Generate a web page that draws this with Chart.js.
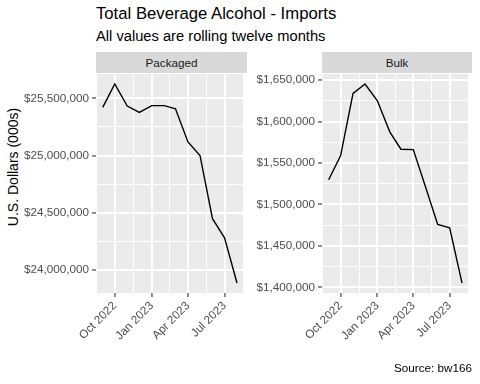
<!DOCTYPE html>
<html>
<head>
<meta charset="utf-8">
<script src="https://cdn.jsdelivr.net/npm/chart.js@4.4.1/dist/chart.umd.min.js"></script>
<style>
  body { margin: 0; background: #fff; }
  #wrap { position: relative; width: 480px; height: 384px; overflow: hidden; font-family: 'Liberation Sans', Arial, sans-serif; }
  .txt { position: absolute; white-space: nowrap; line-height: 1; }
  .strip { position: absolute; top: 52px; height: 21px; background: #D9D9D9; color: #1A1A1A; font-size: 11.7px; text-align: center; line-height: 21px; }
  canvas { position: absolute; }
</style>
</head>
<body>
<div id="wrap">
  <div class="txt" style="left:96px;top:6px;font-size:16.7px;color:#000">Total Beverage Alcohol - Imports</div>
  <div class="txt" style="left:96px;top:29px;font-size:14.7px;color:#000">All values are rolling twelve months</div>
  <div class="txt" style="left:13px;top:167px;font-size:14px;color:#000;transform:translate(-50%,-50%) rotate(-90deg)">U.S. Dollars (000s)</div>
  <div class="strip" style="left:96px;width:151px">Packaged</div>
  <div class="strip" style="left:322px;width:150px">Bulk</div>
  <canvas id="packagedChart" width="255" height="300" style="left:0;top:64px"></canvas>
  <canvas id="bulkChart" width="238" height="300" style="left:242px;top:64px"></canvas>
  <div class="txt" style="right:8px;top:362px;font-size:11.7px;color:#000">Source: bw166</div>
</div>
<script>
// data (rolling twelve months, U.S. dollars in 000s)
const months = ["2022-09-01", "2022-10-01", "2022-11-01", "2022-12-01", "2023-01-01", "2023-02-01",
                "2023-03-01", "2023-04-01", "2023-05-01", "2023-06-01", "2023-07-01", "2023-08-01"];
const packaged = [25421000, 25626000, 25433000, 25377000, 25436000, 25436000,
                  25409000, 25119000, 25000000, 24446000, 24279000, 23883000];
const bulk = [1529800, 1558900, 1633900, 1645200, 1625000, 1587500,
              1566500, 1566100, 1522000, 1475800, 1471800, 1405200];

// axis breaks
const dateTicks = ["2022-10-01", "2023-01-01", "2023-04-01", "2023-07-01"];
const dateTickLabels = ["Oct 2022", "Jan 2023", "Apr 2023", "Jul 2023"];
const packagedTicks = [24000000, 24500000, 25000000, 25500000];
const bulkTicks = [1400000, 1450000, 1500000, 1550000, 1600000, 1650000];

Chart.defaults.font.family = "'Liberation Sans', Arial, sans-serif";

function toDay(s) {
  return Date.UTC(+s.slice(0, 4), +s.slice(5, 7) - 1, +s.slice(8, 10)) / 86400000;
}

// ggplot style 5% expansion
function expand(values) {
  const lo = Math.min(...values), hi = Math.max(...values);
  const pad = (hi - lo) * 0.05;
  return { min: lo - pad, max: hi + pad };
}

// major breaks plus minor breaks half way between them
function withMinors(majors, min, max) {
  const step = majors[1] - majors[0];
  const all = [majors[0] - step / 2];
  majors.forEach((v, i) => {
    all.push(v);
    const next = i < majors.length - 1 ? majors[i + 1] : v + step;
    all.push((v + next) / 2);
  });
  return all.filter(v => v >= min && v <= max).map(v => ({ value: v, isMajor: majors.includes(v) }));
}

const panelBg = {
  id: "panelBg",
  beforeDraw(chart) {
    const { ctx, chartArea: a } = chart;
    ctx.save();
    ctx.fillStyle = "#EBEBEB";
    ctx.fillRect(a.left, a.top, a.right - a.left, a.bottom - a.top);
    ctx.restore();
  }
};

const gridOpts = {
  color: "#FFFFFF",
  lineWidth: c => (c.tick && c.tick.isMajor ? 1.9 : 0.95),
  tickColor: c => (c.tick && c.tick.isMajor ? "#333333" : "rgba(0,0,0,0)"),
  tickLength: 4,
  tickWidth: 1.1
};

function makePanel(canvasId, values, yTicks, axisWidth) {
  const days = months.map(toDay);
  const xDays = dateTicks.map(toDay);
  const xr = expand(days);
  const yr = expand(values);
  const canvas = document.getElementById(canvasId);

  return new Chart(canvas.getContext("2d"), {
    type: "line",
    data: {
      datasets: [{
        data: days.map((d, i) => ({ x: d, y: values[i] })),
        borderColor: "#000000",
        borderWidth: 1.4,
        pointRadius: 0,
        tension: 0,
        fill: false
      }]
    },
    options: {
      responsive: false,
      animation: false,
      devicePixelRatio: 1,
      layout: { padding: { left: 0, top: 10, right: 8, bottom: 0 } },
      plugins: { legend: { display: false }, tooltip: { enabled: false } },
      scales: {
        x: {
          type: "linear",
          min: xr.min,
          max: xr.max,
          afterBuildTicks: s => { s.ticks = withMinors(xDays, xr.min, xr.max); },
          afterFit: s => { s.height = canvas.height - 10 - 219; },
          grid: gridOpts,
          border: { display: false },
          ticks: {
            autoSkip: false,
            maxRotation: 45,
            minRotation: 45,
            padding: 2,
            color: "#4D4D4D",
            font: { size: 11.7 },
            callback: v => {
              const i = xDays.indexOf(v);
              return i >= 0 ? dateTickLabels[i] : "";
            }
          }
        },
        y: {
          min: yr.min,
          max: yr.max,
          afterBuildTicks: s => { s.ticks = withMinors(yTicks, yr.min, yr.max); },
          afterFit: s => { s.width = axisWidth; },
          grid: gridOpts,
          border: { display: false },
          ticks: {
            padding: 3,
            color: "#4D4D4D",
            font: { size: 11.7 },
            callback: v => (yTicks.includes(v) ? "$" + v.toLocaleString("en-US") : "")
          }
        }
      }
    },
    plugins: [panelBg]
  });
}

makePanel("packagedChart", packaged, packagedTicks, 96);
makePanel("bulkChart", bulk, bulkTicks, 80);
</script>
</body>
</html>
